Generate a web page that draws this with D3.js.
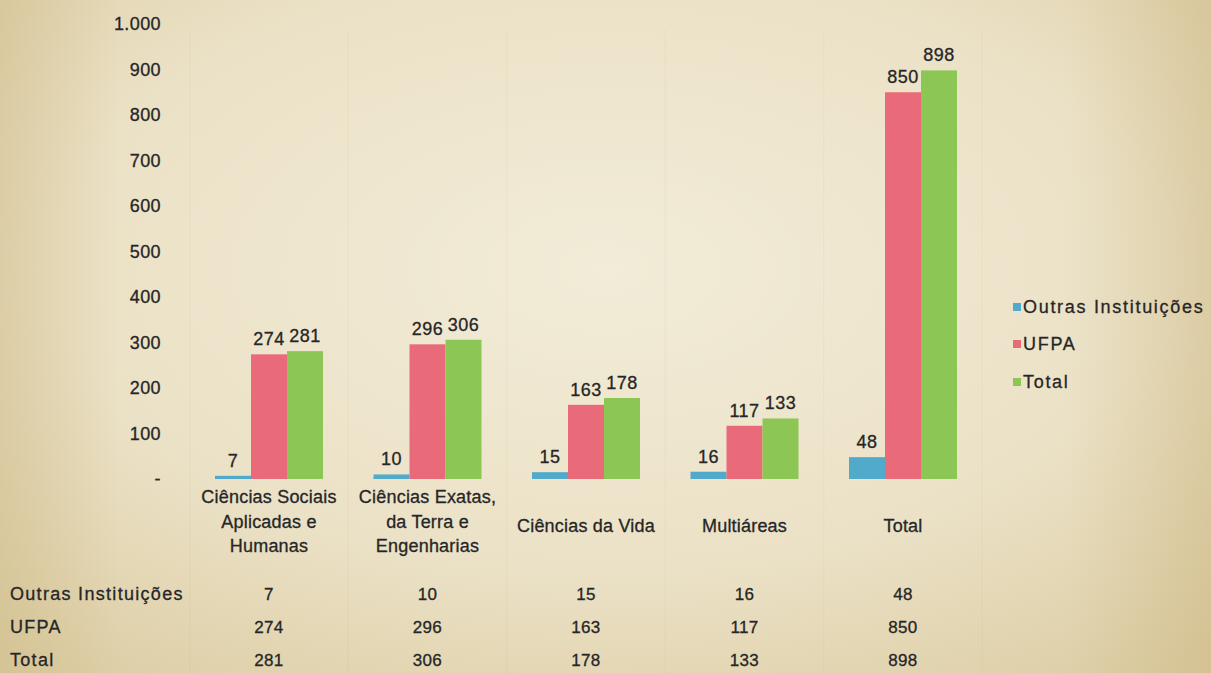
<!DOCTYPE html>
<html>
<head>
<meta charset="utf-8">
<script src="https://cdn.jsdelivr.net/npm/d3@7"></script>
<style>
  body { margin: 0; overflow: hidden; }
  text { font-family: "Liberation Sans", Arial, sans-serif; fill: #262626; stroke: #262626; stroke-width: 0.3px; }
</style>
</head>
<body>
<div id="canvas"></div>
<script>
// data
var categories = [
  ["Ciências Sociais", "Aplicadas e", "Humanas"],
  ["Ciências Exatas,", "da Terra e", "Engenharias"],
  ["Ciências da Vida"],
  ["Multiáreas"],
  ["Total"]
];
var seriesNames = ["Outras Instituições", "UFPA", "Total"];
var outras = [7, 10, 15, 16, 48];
var ufpa = [274, 296, 163, 117, 850];
var total = [281, 306, 178, 133, 898];
var yTicks = [0, 100, 200, 300, 400, 500, 600, 700, 800, 900, 1000];
var colors = ["#52aacb", "#e96b79", "#8cc654"];

var W = 1211, H = 673;
var series = [outras, ufpa, total];

var svg = d3.select('#canvas').append('svg')
  .attr('width', W)
  .attr('height', H);

// parchment background
var defs = svg.append('defs');
var rg = defs.append('radialGradient').attr('id', 'paper')
  .attr('cx', '50%').attr('cy', '40%').attr('r', '75%');
rg.append('stop').attr('offset', '0%').attr('stop-color', '#f2ecd8');
rg.append('stop').attr('offset', '60%').attr('stop-color', '#ebe1c6');
rg.append('stop').attr('offset', '100%').attr('stop-color', '#dccda4');
svg.append('rect').attr('width', W).attr('height', H).attr('fill', 'url(#paper)');

var lg = defs.append('linearGradient').attr('id', 'sides');
lg.append('stop').attr('offset', '0%').attr('stop-color', '#cdb985').attr('stop-opacity', 0.45);
lg.append('stop').attr('offset', '10%').attr('stop-color', '#cdb985').attr('stop-opacity', 0);
lg.append('stop').attr('offset', '88%').attr('stop-color', '#cdb985').attr('stop-opacity', 0);
lg.append('stop').attr('offset', '100%').attr('stop-color', '#c9b27a').attr('stop-opacity', 0.4);
svg.append('rect').attr('width', W).attr('height', H).attr('fill', 'url(#sides)');

// scales
var x0 = d3.scaleBand().domain(d3.range(categories.length))
  .range([189.75, 982.25]).paddingInner(0.3186).paddingOuter(0.1593);
var x1 = d3.scaleBand().domain(d3.range(seriesNames.length))
  .range([0, x0.bandwidth()]);
var y = d3.scaleLinear().domain([0, 1000]).range([479, 24]);

// faint dividers
svg.append('g').selectAll('line')
  .data(d3.range(categories.length + 1))
  .enter().append('line')
  .attr('x1', function(d){ return x0.range()[0] + d * x0.step(); })
  .attr('x2', function(d){ return x0.range()[0] + d * x0.step(); })
  .attr('y1', 30).attr('y2', H)
  .attr('stroke', '#b8a47a').attr('stroke-opacity', 0.1);

// y axis
var yAxis = d3.axisLeft(y).tickValues(yTicks).tickSize(0)
  .tickFormat(function(d){ return d === 0 ? '-' : d3.format(',')(d).replace(',', '.'); });
var ya = svg.append('g').attr('transform', 'translate(164,0)').call(yAxis);
ya.select('.domain').remove();
ya.selectAll('text')
  .attr('font-size', 18).attr('fill', '#262626')
  .style('letter-spacing', '0.4px')
  .attr('dx', 0);

// bars
var groups = svg.append('g').selectAll('g')
  .data(categories)
  .enter().append('g')
  .attr('transform', function(d, i){ return 'translate(' + x0(i) + ',0)'; });

groups.selectAll('rect')
  .data(function(d, i){ return series.map(function(s, k){ return {k: k, v: s[i]}; }); })
  .enter().append('rect')
  .attr('x', function(d){ return x1(d.k); })
  .attr('width', x1.bandwidth())
  .attr('y', function(d){ return y(d.v); })
  .attr('height', function(d){ return y(0) - y(d.v); })
  .attr('fill', function(d){ return colors[d.k]; });

groups.selectAll('text.val')
  .data(function(d, i){ return series.map(function(s, k){ return {k: k, v: s[i]}; }); })
  .enter().append('text').attr('class', 'val')
  .attr('x', function(d){ return x1(d.k) + x1.bandwidth() / 2; })
  .attr('y', function(d){ return y(d.v) - 9; })
  .attr('text-anchor', 'middle')
  .attr('font-size', 18)
  .style('letter-spacing', '0.5px')
  .text(function(d){ return d.v; });

// category labels
svg.append('g').selectAll('text')
  .data(categories)
  .enter().append('text')
  .attr('text-anchor', 'middle')
  .attr('font-size', 18)
  .style('letter-spacing', '0.2px')
  .attr('x', function(d, i){ return x0(i) + x0.bandwidth() / 2; })
  .attr('y', function(d){ return d.length === 1 ? 532 : 503; })
  .each(function(d){
    var t = d3.select(this);
    d.forEach(function(line, j){
      t.append('tspan')
        .attr('x', t.attr('x'))
        .attr('dy', j === 0 ? 0 : 24.5)
        .text(line);
    });
  });

// data table
var rowY = [600, 633, 666];
var table = svg.append('g');
table.selectAll('text.rowname')
  .data(seriesNames)
  .enter().append('text').attr('class', 'rowname')
  .attr('x', 10)
  .attr('y', function(d, i){ return rowY[i]; })
  .attr('font-size', 18)
  .style('letter-spacing', '1.3px')
  .text(function(d){ return d; });

series.forEach(function(s, k){
  table.selectAll('text.c' + k)
    .data(s)
    .enter().append('text').attr('class', 'c' + k)
    .attr('x', function(d, i){ return x0(i) + x0.bandwidth() / 2; })
    .attr('y', rowY[k])
    .attr('text-anchor', 'middle')
    .attr('font-size', 17)
    .style('letter-spacing', '0.3px')
    .text(function(d){ return d; });
});

// legend
var legend = svg.append('g').attr('transform', 'translate(1013,0)');
var legY = [307, 344, 382];
legend.selectAll('rect')
  .data(seriesNames)
  .enter().append('rect')
  .attr('x', 0)
  .attr('y', function(d, i){ return legY[i] - 4; })
  .attr('width', 8).attr('height', 8)
  .attr('fill', function(d, i){ return colors[i]; });
legend.selectAll('text')
  .data(seriesNames)
  .enter().append('text')
  .attr('x', 10)
  .attr('y', function(d, i){ return legY[i] + 6; })
  .attr('font-size', 18)
  .style('letter-spacing', '1.7px')
  .text(function(d){ return d; });
</script>
</body>
</html>
